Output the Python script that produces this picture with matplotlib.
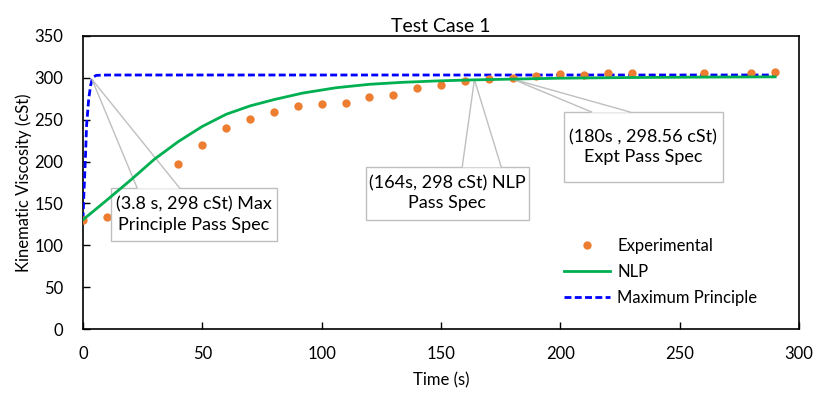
import matplotlib.pyplot as plt
from matplotlib.patches import Polygon, Rectangle

plt.rcParams['font.family'] = ['Lato', 'DejaVu Sans']

# experimental points
exp_t = [0, 10, 40, 50, 60, 70, 80, 90, 100, 110, 120, 130, 140, 150, 160,
         170, 180, 190, 200, 210, 220, 230, 260, 280, 290]
exp_v = [130, 134, 197, 220, 240.5, 251, 259, 266, 268.4, 269.6, 277.5, 280,
         287.5, 291, 296, 298.3, 299.5, 302.6, 304.3, 304, 305.8, 305.8,
         305.5, 305.5, 307]

# NLP model curve
nlp_t = [0, 10, 20, 30, 40, 50, 60, 70, 80, 92, 106, 120, 134, 148, 162,
         183, 200, 230, 260, 290]
nlp_v = [130.5, 154, 178, 203, 224, 242, 256.5, 266.5, 274, 281.8,
         288.2, 292.3, 294.7, 296.3, 297.5, 298.7, 299.6, 300.4, 300.9, 301.2]

# maximum principle curve
mp_t = [0, 0.4, 1.0, 1.5, 2.4, 3.2, 3.8, 4.6, 5.6, 10, 290]
mp_v = [131, 163, 203, 243, 275, 291, 298, 301.5, 303, 303.4, 303.4]

# callouts: target point and text
note_t = [3.8, 164, 180]
note_v = [298, 298, 298.56]
note_txt = ['(3.8 s, 298 cSt) Max\nPrinciple Pass Spec',
            '(164s, 298 cSt) NLP\nPass Spec',
            '(180s , 298.56 cSt)\nExpt Pass Spec']
# box extents (t0, t1, v0, v1) and pointer base (t0, t1)
note_box = [(11.7, 81.3, 105, 168.4), (118.6, 186.8, 130.2, 193.9),
            (201.5, 268.1, 175.6, 259.2)]
note_base = [(22.7, 40.5), (158.9, 175.2), (213.1, 229.2)]

fig = plt.figure(figsize=(8.16, 3.93), dpi=100)
ax = fig.add_axes([0.1017, 0.1628, 0.8775, 0.7456])

ax.plot(exp_t, exp_v, 'o', color='#ED7D31', ms=6, mec='none',
        label='Experimental', zorder=4)
ax.plot(nlp_t, nlp_v, '-', color='#00B050', lw=2, label='NLP', zorder=7.5)
ax.plot(mp_t, mp_v, '--', color='#0000FF', lw=2, dashes=(2.5, 1.2),
        label='Maximum Principle', zorder=3)

ax.set_xlim(0, 300)
ax.set_ylim(0, 350)
ax.set_xticks(range(0, 301, 50))
ax.set_yticks(range(0, 351, 50))
ax.tick_params(direction='in', length=5, width=1, labelsize=12,
               colors='black')
ax.tick_params(axis='x', pad=12)
ax.tick_params(axis='y', pad=14)
for s in ax.spines.values():
    s.set_linewidth(1.2)
    s.set_color('black')

ax.set_title('Test Case 1', fontsize=14, pad=3)
ax.set_xlabel('Time (s)', fontsize=12, labelpad=8)
ax.set_ylabel('Kinematic Viscosity (cSt)', fontsize=12, labelpad=2)

for tx, ty, txt, (x0, x1, y0, y1), (b0, b1) in zip(
        note_t, note_v, note_txt, note_box, note_base):
    ax.add_patch(Rectangle((x0, y0), x1 - x0, y1 - y0, fc='white',
                           ec='#BFBFBF', lw=1, zorder=6))
    ax.text((x0 + x1) / 2, (y0 + y1) / 2, txt, ha='center', va='center',
            fontsize=13, linespacing=1.3, zorder=8)
    ax.add_patch(Polygon([(b0, y1 - 0.8), (tx, ty), (b1, y1 - 0.8)],
                         closed=True, fc='white', ec='none', zorder=7))
    ax.plot([b0, tx, b1], [y1, ty, y1], color='#BFBFBF', lw=1, zorder=7)

ax.legend(loc='lower right', bbox_to_anchor=(0.951, 0.055), frameon=False,
          fontsize=12, handlelength=2.75, handletextpad=0.42,
          labelspacing=0.62, borderaxespad=0)

fig.savefig('out.png', dpi=100)
